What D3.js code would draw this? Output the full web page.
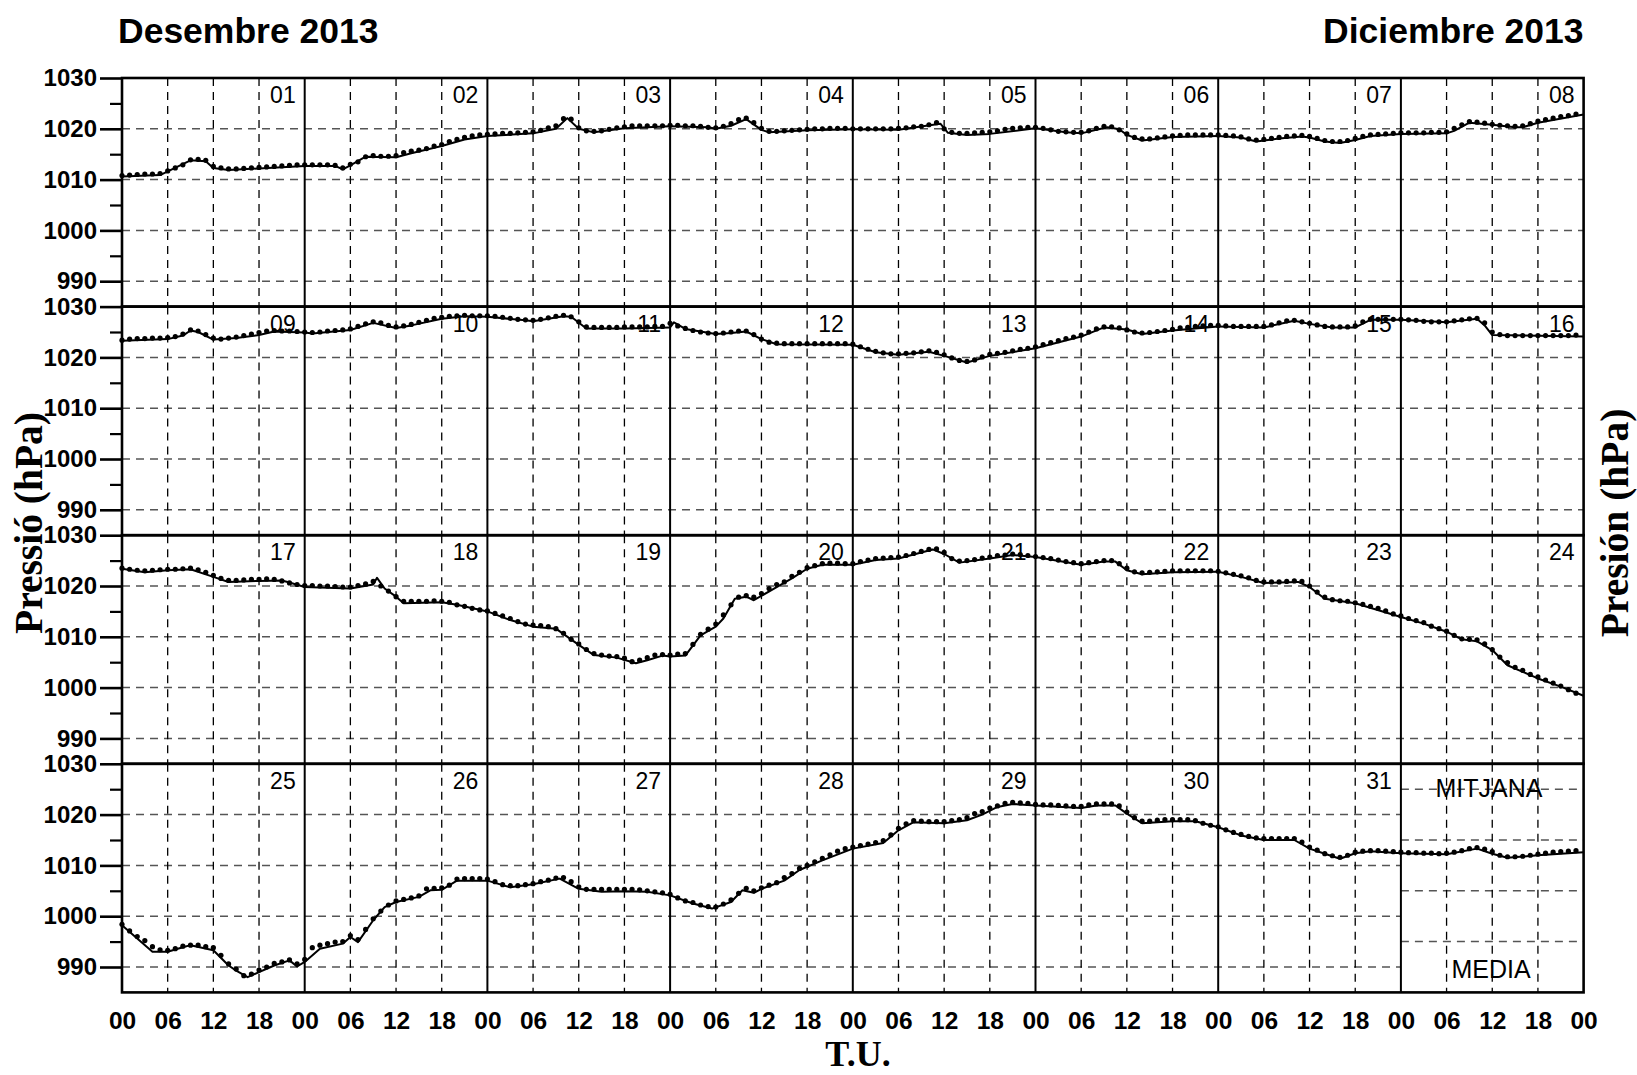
<!DOCTYPE html>
<html>
<head>
<meta charset="utf-8">
<script src="https://cdn.jsdelivr.net/npm/d3@7"></script>
<style>
  body { margin: 0; background: #fff; }
  svg { display: block; }
</style>
</head>
<body>
<svg id="chart" width="1637" height="1075"></svg>
<script>
// Dies del mes
var dayLabels = ["01","02","03","04","05","06","07","08","09","10","11","12","13","14","15","16",
                 "17","18","19","20","21","22","23","24","25","26","27","28","29","30","31"];
// Etiquetes horàries (T.U.)
var hourLabels = ["00","06","12","18"];
// Marques de l'eix Y
var yMajor = [990, 1000, 1010, 1020, 1030];
var yMinor = [995, 1005, 1015, 1025];
var yGrid = [990, 1000, 1010, 1020];
var meanGrid = [995, 1005, 1015, 1025];

// Línia contínua: punts de trencament [hora, hPa] per dia
var lineBreaks = [
  [[0,1010.6],[5,1010.9],[9,1013.8],[11,1013.6],[12,1012.3],[14,1011.9],[18,1012.2],[24,1012.7]],
  [[0,1012.7],[4,1012.7],[5,1012.0],[6,1012.8],[8,1014.5],[12,1014.4],[14,1015.2],[18,1016.6],[21,1017.9],[24,1018.6]],
  [[0,1018.6],[6,1019.1],[9,1020.0],[10.5,1022.1],[12,1020.0],[14,1019.3],[18,1020.1],[24,1020.5]],
  [[0,1020.5],[5,1020.3],[6,1020.0],[8,1020.6],[10,1021.9],[12,1019.8],[13,1019.3],[18,1019.7],[24,1019.9]],
  [[0,1019.9],[6,1019.8],[11.5,1021.0],[12.5,1019.2],[15,1018.8],[18,1019.0],[24,1020.1]],
  [[0,1020.1],[4,1019.3],[6,1019.1],[8,1019.8],[9.5,1020.3],[11,1019.9],[12,1018.8],[14,1017.7],[18,1018.4],[24,1018.6]],
  [[0,1018.6],[3,1018.3],[5,1017.5],[8,1018.1],[11,1018.5],[12,1018.3],[14,1017.5],[16,1017.2],[18,1017.8],[20,1018.6],[24,1019.0]],
  [[0,1019.0],[6,1019.1],[7,1019.6],[9,1021.2],[12,1020.8],[15,1020.3],[16,1020.3],[18,1021.2],[24,1022.8]],
  [[0,1023.3],[6,1023.6],[8,1024.3],[9,1025.3],[10,1025.0],[12,1023.5],[15,1023.8],[18,1024.4],[20,1025.1],[24,1024.9]],
  [[0,1024.9],[1,1024.7],[6,1025.4],[9,1026.8],[12,1025.8],[14,1026.3],[18,1027.6],[21,1028.1],[24,1028.0]],
  [[0,1028.0],[5,1027.3],[6,1027.1],[10,1028.1],[11,1028.0],[13,1025.7],[18,1025.7],[24,1025.9]],
  [[0,1025.9],[0.5,1026.9],[2,1025.6],[6,1024.6],[8,1024.8],[10,1025.1],[12,1023.6],[14,1022.6],[24,1022.5]],
  [[0,1022.5],[3,1021.0],[6,1020.5],[10,1021.1],[12,1020.3],[15,1019.0],[18,1020.3],[24,1021.8]],
  [[0,1021.8],[6,1024.1],[9,1025.9],[12,1025.5],[14,1024.6],[18,1025.3],[24,1026.1]],
  [[0,1026.1],[6,1025.9],[10,1027.2],[12,1026.6],[15,1025.9],[18,1025.9],[20,1027.4],[24,1027.4]],
  [[0,1027.4],[6,1026.9],[10,1027.6],[11,1026.3],[12,1024.4],[24,1024.1]],
  [[0,1023.4],[3,1022.7],[6,1023.1],[9,1023.3],[12,1021.8],[14,1020.8],[18,1021.0],[21,1021.1],[22,1020.7],[24,1019.8]],
  [[0,1019.8],[6,1019.5],[9,1020.3],[9.5,1021.6],[10.5,1019.5],[12,1017.9],[13,1016.6],[18,1016.8],[20,1016.3],[24,1015.0]],
  [[0,1015.0],[3,1013.3],[6,1012.0],[9,1011.6],[12,1008.4],[14,1006.4],[17,1005.9],[19.5,1004.8],[21,1005.4],[23,1006.3],[24,1006.1]],
  [[0,1006.1],[2,1006.3],[4,1010.3],[6,1012.0],[7,1013.6],[8.5,1017.5],[10,1017.9],[11,1017.2],[14,1019.8],[16,1021.5],[18,1023.4],[20,1024.2],[24,1024.2]],
  [[0,1024.2],[3,1025.1],[6,1025.4],[10.5,1027.2],[12,1026.3],[14,1024.6],[18,1025.4],[21,1026.1],[24,1025.7]],
  [[0,1025.7],[6,1024.2],[9,1024.8],[10.5,1024.8],[12,1023.1],[14,1022.3],[18,1022.7],[24,1022.8]],
  [[0,1022.8],[3,1021.8],[6,1020.6],[10.5,1020.8],[12,1019.8],[14,1017.5],[18,1016.6],[24,1013.9]],
  [[0,1013.9],[3,1012.6],[6,1011.0],[8,1009.5],[10,1009.1],[12,1007.4],[14,1004.4],[16,1003.1],[18,1001.8],[21,1000.2],[24,998.4]],
  [[0,998.2],[2,995.6],[4,993.0],[6,993.0],[8,993.9],[9,994.3],[12,993.3],[14,990.3],[15,989.3],[16.5,988.0],[18,989.0],[20,990.3],[22,991.3],[23,990.1],[24,991.0]],
  [[0,991.0],[2,993.6],[5,994.6],[6,995.9],[7,994.9],[9,999.2],[10.5,1001.8],[12,1002.8],[15,1003.8],[16.5,1005.1],[18,1005.2],[20,1007.0],[24,1007.0]],
  [[0,1007.0],[3,1005.7],[6,1006.3],[9.5,1007.4],[12,1005.4],[15,1004.8],[18,1004.9],[21,1004.8],[24,1004.1]],
  [[0,1004.1],[3,1002.5],[5.5,1001.5],[8,1002.8],[9.5,1005.1],[11,1004.6],[12,1005.4],[15,1007.0],[17,1009.1],[20,1011.0],[24,1013.3]],
  [[0,1013.3],[4,1014.4],[6,1016.9],[8,1018.5],[12,1018.3],[15,1018.9],[17,1020.0],[19,1021.5],[21,1022.1],[24,1021.8]],
  [[0,1021.8],[6,1021.3],[8,1021.8],[10.5,1021.8],[12,1020.2],[14,1018.3],[18,1018.7],[21,1018.7],[24,1017.5]],
  [[0,1017.5],[3,1015.9],[6,1015.0],[10,1015.0],[12,1013.3],[14,1012.3],[16,1011.3],[18,1012.4],[20,1012.8],[24,1012.4]]
];

// Valors horaris (punts), hores 00..23 de cada dia
var hourlyDots = [
  [1010.8,1010.9,1011.0,1011.1,1011.1,1011.2,1011.7,1012.3,1012.9,1013.9,1014.0,1013.8,1012.6,1012.3,1012.1,1012.1,1012.2,1012.3,1012.4,1012.5,1012.6,1012.7,1012.8,1012.9],
  [1012.9,1012.9,1012.9,1012.9,1012.8,1012.3,1013.0,1013.5,1014.5,1014.7,1014.6,1014.6,1014.7,1015.3,1015.6,1015.8,1016.1,1016.6,1016.9,1017.5,1017.9,1018.3,1018.6,1018.8],
  [1018.9,1019.0,1019.1,1019.1,1019.2,1019.3,1019.4,1019.7,1020.2,1020.6,1022.0,1021.9,1020.2,1019.6,1019.5,1019.6,1019.9,1020.2,1020.4,1020.6,1020.6,1020.6,1020.6,1020.6],
  [1020.7,1020.7,1020.6,1020.6,1020.5,1020.3,1020.2,1020.5,1021.0,1021.8,1022.1,1021.2,1020.1,1019.5,1019.5,1019.6,1019.7,1019.8,1019.9,1020.0,1020.0,1020.1,1020.1,1020.1],
  [1020.0,1020.0,1020.0,1020.0,1020.0,1020.0,1020.1,1020.2,1020.4,1020.5,1020.8,1021.2,1020.0,1019.3,1019.1,1019.1,1019.2,1019.3,1019.4,1019.6,1019.9,1020.1,1020.2,1020.3],
  [1020.3,1020.1,1019.8,1019.5,1019.4,1019.3,1019.3,1019.6,1020.1,1020.5,1020.4,1019.8,1019.0,1018.3,1018.0,1018.0,1018.2,1018.4,1018.6,1018.7,1018.8,1018.8,1018.8,1018.8],
  [1018.8,1018.7,1018.6,1018.4,1018.0,1017.8,1017.9,1018.1,1018.3,1018.5,1018.6,1018.7,1018.5,1018.1,1017.7,1017.5,1017.5,1017.7,1018.1,1018.5,1018.8,1018.9,1019.0,1019.1],
  [1019.2,1019.2,1019.2,1019.2,1019.3,1019.3,1019.4,1020.1,1020.8,1021.4,1021.3,1021.1,1020.9,1020.7,1020.6,1020.5,1020.6,1021.0,1021.5,1021.8,1022.1,1022.4,1022.6,1022.9],
  [1023.4,1023.6,1023.7,1023.7,1023.8,1023.8,1023.9,1024.1,1024.6,1025.4,1025.2,1024.5,1023.8,1023.6,1023.8,1024.0,1024.3,1024.6,1024.9,1025.2,1025.3,1025.2,1025.2,1025.1],
  [1025.0,1024.9,1025.0,1025.2,1025.3,1025.4,1025.6,1026.1,1026.6,1027.0,1026.8,1026.3,1026.0,1026.2,1026.5,1026.9,1027.3,1027.7,1027.9,1028.1,1028.2,1028.3,1028.2,1028.2],
  [1028.2,1028.1,1027.9,1027.7,1027.5,1027.4,1027.3,1027.5,1027.8,1028.1,1028.3,1028.0,1027.0,1026.0,1025.9,1025.9,1025.9,1025.9,1026.0,1026.0,1026.0,1026.0,1026.1,1026.1],
  [1026.7,1026.2,1025.7,1025.3,1025.0,1024.8,1024.7,1024.8,1025.0,1025.2,1025.2,1024.5,1023.6,1023.0,1022.8,1022.7,1022.7,1022.7,1022.7,1022.7,1022.7,1022.7,1022.7,1022.7],
  [1022.6,1022.1,1021.6,1021.2,1020.9,1020.7,1020.7,1020.8,1020.9,1021.1,1021.3,1021.0,1020.5,1019.9,1019.4,1019.2,1019.5,1020.1,1020.6,1020.8,1021.0,1021.3,1021.6,1021.8],
  [1022.1,1022.5,1022.9,1023.3,1023.7,1024.0,1024.4,1025.0,1025.6,1026.0,1026.0,1025.8,1025.4,1025.0,1024.8,1024.9,1025.1,1025.3,1025.5,1025.8,1025.9,1026.1,1026.2,1026.3],
  [1026.3,1026.2,1026.1,1026.1,1026.1,1026.1,1026.1,1026.4,1026.8,1027.2,1027.3,1027.0,1026.7,1026.4,1026.1,1026.0,1026.0,1026.0,1026.2,1027.0,1027.5,1027.5,1027.5,1027.5],
  [1027.5,1027.4,1027.3,1027.1,1027.0,1027.0,1027.0,1027.2,1027.4,1027.6,1027.7,1026.8,1025.0,1024.5,1024.3,1024.3,1024.3,1024.3,1024.3,1024.3,1024.3,1024.3,1024.3,1024.4],
  [1023.5,1023.3,1023.1,1023.0,1023.1,1023.2,1023.3,1023.3,1023.4,1023.5,1023.2,1022.7,1022.1,1021.5,1021.1,1021.1,1021.2,1021.3,1021.3,1021.4,1021.3,1021.0,1020.6,1020.3],
  [1020.1,1020.1,1020.0,1020.0,1019.9,1019.8,1019.8,1020.1,1020.4,1020.9,1020.0,1019.0,1017.9,1017.0,1017.0,1017.0,1017.0,1017.1,1017.0,1016.8,1016.3,1016.0,1015.6,1015.3],
  [1015.1,1014.6,1014.1,1013.6,1013.0,1012.5,1012.3,1012.2,1012.0,1011.6,1010.7,1009.5,1008.6,1007.5,1006.7,1006.4,1006.2,1006.1,1005.8,1005.1,1005.4,1005.9,1006.4,1006.5],
  [1006.4,1006.6,1006.7,1008.5,1010.5,1011.5,1012.5,1014.3,1016.3,1017.8,1018.1,1017.8,1018.5,1019.5,1020.3,1020.8,1021.9,1022.7,1023.6,1024.0,1024.4,1024.5,1024.5,1024.4],
  [1024.4,1024.8,1025.1,1025.4,1025.5,1025.6,1025.7,1026.0,1026.4,1026.8,1027.2,1027.3,1026.6,1025.4,1024.9,1025.0,1025.2,1025.5,1025.7,1026.0,1026.1,1026.3,1026.2,1026.0],
  [1025.8,1025.6,1025.4,1025.1,1024.8,1024.6,1024.4,1024.6,1024.8,1025.0,1025.0,1024.4,1023.5,1022.8,1022.6,1022.7,1022.8,1022.9,1023.0,1023.0,1023.0,1023.0,1023.0,1023.0],
  [1022.9,1022.6,1022.3,1022.0,1021.6,1021.1,1020.8,1020.8,1020.8,1020.9,1021.0,1020.9,1020.0,1018.8,1017.8,1017.3,1017.1,1017.0,1016.7,1016.4,1016.0,1015.6,1015.1,1014.5],
  [1014.1,1013.6,1013.2,1012.8,1012.1,1011.6,1011.1,1010.3,1009.6,1009.5,1009.4,1008.6,1007.5,1006.0,1004.9,1004.0,1003.4,1002.6,1002.1,1001.5,1000.9,1000.3,999.6,998.9],
  [998.4,997.1,996.0,995.2,994.0,993.4,993.3,993.6,994.1,994.3,994.3,994.0,993.8,992.3,990.6,989.6,988.3,988.6,989.4,990.0,990.7,991.0,991.4,990.6],
  [991.5,993.8,994.3,994.6,994.9,995.0,996.2,995.4,997.4,999.5,1001.0,1002.2,1003.0,1003.3,1003.6,1004.0,1005.4,1005.5,1005.6,1006.1,1007.3,1007.4,1007.4,1007.4],
  [1007.3,1006.8,1006.2,1006.0,1006.0,1006.2,1006.4,1006.8,1007.1,1007.5,1007.6,1006.8,1005.8,1005.3,1005.3,1005.3,1005.3,1005.3,1005.3,1005.3,1005.2,1005.0,1004.8,1004.6],
  [1004.3,1003.6,1003.0,1002.7,1002.2,1001.9,1001.8,1002.4,1003.2,1004.5,1005.5,1005.0,1005.6,1006.1,1006.6,1007.6,1008.4,1009.4,1010.0,1010.7,1011.4,1012.1,1012.8,1013.3],
  [1013.6,1013.9,1014.2,1014.5,1014.9,1016.0,1017.3,1018.2,1018.8,1018.7,1018.6,1018.6,1018.6,1018.8,1019.0,1019.4,1020.2,1020.6,1021.3,1021.7,1022.2,1022.4,1022.3,1022.2],
  [1022.0,1021.9,1021.9,1021.8,1021.7,1021.6,1021.6,1021.9,1022.1,1022.1,1022.1,1021.7,1020.5,1019.4,1018.7,1018.7,1018.9,1019.0,1019.0,1019.0,1019.0,1018.8,1018.3,1017.9],
  [1017.6,1017.0,1016.5,1016.1,1015.7,1015.4,1015.3,1015.3,1015.3,1015.3,1015.3,1014.6,1013.6,1013.0,1012.3,1011.9,1011.6,1012.0,1012.6,1012.8,1012.9,1012.9,1012.8,1012.7]
];

// Mitjana mensual
var meanLine = [[0,1012.4],[6,1012.2],[10,1013.3],[12,1012.3],[14,1011.5],[18,1012.0],[24,1012.6]];
var meanDots = [1012.6,1012.5,1012.5,1012.4,1012.4,1012.3,1012.4,1012.6,1012.9,1013.3,1013.5,1013.2,
                1012.7,1012.0,1011.7,1011.7,1011.8,1012.0,1012.2,1012.4,1012.6,1012.7,1012.8,1012.9];

// Geometria
var svg = d3.select("#chart");
var plotLeft = 122, plotRight = 1583.6, plotTop = 78, rowH = 228.6;
var sansFont = "'Liberation Sans', Arial, Helvetica, sans-serif";
var serifFont = "'Liberation Serif', 'Times New Roman', serif";

// Escala X: 8 dies per fila, 192 hores
var x = d3.scaleLinear().domain([0, 192]).range([plotLeft, plotRight]);

// Titols
svg.append("text").attr("x", 118).attr("y", 43)
  .attr("font-family", sansFont).attr("font-weight", "bold").attr("font-size", 35.5)
  .text("Desembre 2013");
svg.append("text").attr("x", plotRight).attr("y", 43).attr("text-anchor", "end")
  .attr("font-family", sansFont).attr("font-weight", "bold").attr("font-size", 35.5)
  .text("Diciembre 2013");

var rowScales = [];

for (var r = 0; r < 4; r++) {
  var rowTop = plotTop + r * rowH;
  var y = d3.scaleLinear().domain([985, 1030]).range([rowTop + rowH, rowTop]);
  rowScales.push(y);
  var g = svg.append("g");
  var nCells = (r === 3) ? 7 : 8;

  // Linies horitzontals discontinues
  g.selectAll(".hgrid").data(yGrid).join("line")
    .attr("x1", plotLeft).attr("x2", x(nCells * 24))
    .attr("y1", d => y(d)).attr("y2", d => y(d))
    .attr("stroke", "#555").attr("stroke-width", 1.5).attr("stroke-dasharray", "8,6");

  if (r === 3) {
    g.selectAll(".mgrid").data(meanGrid).join("line")
      .attr("x1", x(168)).attr("x2", x(192))
      .attr("y1", d => y(d)).attr("y2", d => y(d))
      .attr("stroke", "#555").attr("stroke-width", 1.5).attr("stroke-dasharray", "8,6");
  }

  // Linies verticals discontinues (06, 12, 18)
  var vHours = [];
  for (var c = 0; c < 8; c++) [6, 12, 18].forEach(h => vHours.push(c * 24 + h));
  g.selectAll(".vgrid").data(vHours).join("line")
    .attr("x1", d => x(d)).attr("x2", d => x(d))
    .attr("y1", rowTop).attr("y2", rowTop + rowH)
    .attr("stroke", "#000").attr("stroke-width", 1.3).attr("stroke-dasharray", "8,6");

  // Separadors de dies
  g.selectAll(".dsep").data([1, 2, 3, 4, 5, 6, 7]).join("line")
    .attr("x1", d => x(d * 24)).attr("x2", d => x(d * 24))
    .attr("y1", rowTop).attr("y2", rowTop + rowH)
    .attr("stroke", "#000").attr("stroke-width", 2);

  // Marc de la fila
  g.append("rect").attr("x", plotLeft).attr("y", rowTop)
    .attr("width", plotRight - plotLeft).attr("height", rowH)
    .attr("fill", "none").attr("stroke", "#000").attr("stroke-width", 2.6);

  // Eix Y: marques principals amb etiqueta
  var axMaj = g.append("g").attr("transform", "translate(" + plotLeft + ",0)")
    .call(d3.axisLeft(y).tickValues(yMajor).tickSize(22).tickSizeOuter(0).tickPadding(3).tickFormat(d3.format("d")));
  axMaj.select(".domain").remove();
  axMaj.selectAll("line").attr("stroke-width", 2.6);
  axMaj.attr("font-family", sansFont).attr("font-weight", "bold").attr("font-size", 24);

  // Eix Y: marques secundaries
  var axMin = g.append("g").attr("transform", "translate(" + plotLeft + ",0)")
    .call(d3.axisLeft(y).tickValues(yMinor).tickSize(12).tickSizeOuter(0).tickFormat(""));
  axMin.select(".domain").remove();
  axMin.selectAll("line").attr("stroke-width", 2.2);
}

// Etiquetes dels dies
dayLabels.forEach(function(lbl, i) {
  var r = Math.floor(i / 8), c = i % 8;
  svg.append("text")
    .attr("x", x(c * 24 + 24) - 9).attr("y", plotTop + r * rowH + 25)
    .attr("text-anchor", "end")
    .attr("font-family", sansFont).attr("font-size", 23)
    .text(lbl);
});

// Corbes i punts
var curves = svg.append("g");
function drawDay(breaks, dots, r, c) {
  var y = rowScales[r];
  var line = d3.line().x(d => x(c * 24 + d[0])).y(d => y(d[1]));
  curves.append("path").datum(breaks).attr("d", line)
    .attr("fill", "none").attr("stroke", "#000").attr("stroke-width", 2).attr("stroke-linejoin", "round");
  curves.append("g").selectAll("circle").data(dots).join("circle")
    .attr("cx", (d, h) => x(c * 24 + h)).attr("cy", d => y(d))
    .attr("r", 2.6).attr("fill", "#000");
}
lineBreaks.forEach(function(b, i) {
  drawDay(b, hourlyDots[i], Math.floor(i / 8), i % 8);
});
drawDay(meanLine, meanDots, 3, 7);

// Etiquetes de la mitjana
svg.append("text").attr("x", 1489).attr("y", 797).attr("text-anchor", "middle")
  .attr("font-family", sansFont).attr("font-size", 25).text("MITJANA");
svg.append("text").attr("x", 1491).attr("y", 978).attr("text-anchor", "middle")
  .attr("font-family", sansFont).attr("font-size", 25).text("MEDIA");

// Eix X (hores T.U.)
var xTicks = d3.range(0, 193, 6);
var axX = svg.append("g").attr("transform", "translate(0," + (plotTop + 4 * rowH) + ")")
  .call(d3.axisBottom(x).tickValues(xTicks).tickSize(0).tickPadding(19.5)
    .tickFormat(d => hourLabels[(d % 24) / 6]));
axX.select(".domain").remove();
axX.attr("font-family", sansFont).attr("font-weight", "bold").attr("font-size", 24.5);

// Titols dels eixos
svg.append("text").attr("x", 858).attr("y", 1066).attr("text-anchor", "middle")
  .attr("font-family", serifFont).attr("font-weight", "bold").attr("font-size", 36)
  .text("T.U.");
svg.append("text").attr("transform", "translate(42,523) rotate(-90)").attr("text-anchor", "middle")
  .attr("font-family", serifFont).attr("font-weight", "bold").attr("font-size", 39.5)
  .text("Pressió (hPa)");
svg.append("text").attr("transform", "translate(1628,523) rotate(-90)").attr("text-anchor", "middle")
  .attr("font-family", serifFont).attr("font-weight", "bold").attr("font-size", 39.5)
  .text("Presión (hPa)");
</script>
</body>
</html>
